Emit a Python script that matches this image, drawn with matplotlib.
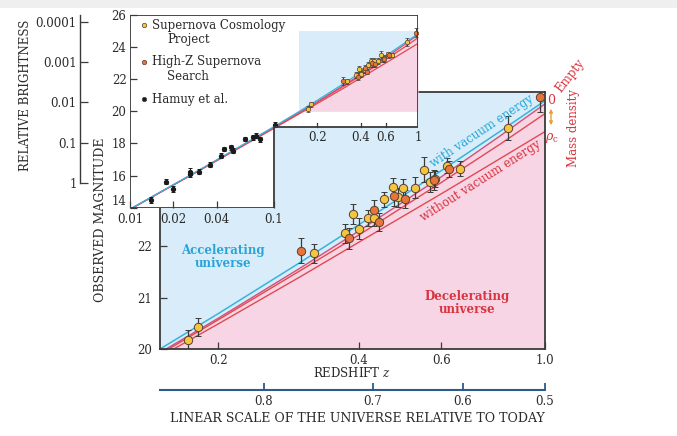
import numpy as np
import matplotlib
matplotlib.use('Agg')
import matplotlib.pyplot as plt
from matplotlib.patches import Polygon, Rectangle, FancyArrowPatch
from matplotlib.ticker import NullLocator

plt.rcParams['font.family'] = 'DejaVu Serif'
plt.rcParams['mathtext.fontset'] = 'dejavuserif'

# model curves: magnitude vs redshift
z_model = [0.01, 0.03, 0.1, 0.15, 0.2, 0.3, 0.4, 0.6, 0.8, 1.0]
m_vacuum = [13.91, 16.33, 19.05, 20.00, 20.69, 21.69, 22.42, 23.47, 24.23, 24.83]
m_empty = [13.90, 16.31, 19.00, 19.93, 20.60, 21.58, 22.30, 23.35, 24.14, 24.77]
m_open = [13.90, 16.30, 18.98, 19.90, 20.57, 21.53, 22.22, 23.24, 23.98, 24.58]
m_crit = [13.90, 16.29, 18.94, 19.85, 20.49, 21.41, 22.08, 23.02, 23.70, 24.23]

# Supernova Cosmology Project
scp_z = [0.1725, 0.1806, 0.321, 0.3735, 0.389, 0.4006, 0.419, 0.431, 0.452, 0.472,
         0.484, 0.4975, 0.5275, 0.551, 0.567, 0.582, 0.617, 0.658, 0.8325]
scp_m = [20.17, 20.43, 21.86, 22.25, 22.63, 22.34, 22.55, 22.55, 22.91, 23.15,
         22.95, 23.14, 23.14, 23.49, 23.25, 23.31, 23.57, 23.51, 24.30]
scp_err = [0.19, 0.17, 0.18, 0.19, 0.19, 0.20, 0.16, 0.16, 0.15, 0.18,
           0.19, 0.17, 0.20, 0.24, 0.20, 0.16, 0.15, 0.14, 0.24]

# High-Z Supernova Search
hz_z = [0.3005, 0.381, 0.431, 0.442, 0.476, 0.502, 0.579, 0.624, 0.974]
hz_m = [21.91, 22.15, 22.71, 22.47, 22.98, 22.92, 23.29, 23.50, 24.91]
hz_err = [0.24, 0.21, 0.18, 0.17, 0.19, 0.18, 0.19, 0.15, 0.30]

# Hamuy et al. nearby sample
ham_z = [0.0139, 0.0179, 0.020, 0.026, 0.026, 0.030, 0.0361, 0.043, 0.045, 0.050,
         0.0519, 0.0632, 0.0716, 0.0755, 0.0801, 0.1011]
ham_m = [14.48, 15.63, 15.17, 16.25, 16.10, 16.25, 16.67, 17.23, 17.65, 17.75,
         17.56, 18.27, 18.38, 18.48, 18.27, 19.17]
ham_err = [0.18, 0.18, 0.18, 0.2, 0.2, 0.15, 0.15, 0.15, 0.15, 0.15,
           0.15, 0.12, 0.15, 0.15, 0.15, 0.15]

z_ticks = [0.2, 0.4, 0.6, 1.0]
z_labels = ['0.2', '0.4', '0.6', '1.0']
inset_low_ticks = [0.01, 0.02, 0.04, 0.1]
inset_low_labels = ['0.01', '0.02', '0.04', '0.1']
inset_high_ticks = [0.2, 0.4, 0.6, 1.0]
inset_high_labels = ['0.2', '0.4', '0.6', '1']
scale_ticks = [0.8, 0.7, 0.6, 0.5]
brightness_ticks = [1, 0.1, 0.01, 0.001, 0.0001]
brightness_labels = ['1', '0.1', '0.01', '0.001', '0.0001']
m_unit_brightness = 15.56

BLUE = '#d8edf9'
PINK = '#f8d5e5'
CYAN = '#37b3dc'
RED = '#e04a52'
YELLOW = '#f4c63f'
ORANGE = '#e8743a'
EDGE = '#3a3a3a'
TXT = '#2a2a2a'

W, H = 677, 436


def fx(px):
    return px / W


def fy(py):
    return 1 - py / H


def box(x0, y0, x1, y1):
    return [x0 / W, 1 - y1 / H, (x1 - x0) / W, (y1 - y0) / H]


fig = plt.figure(figsize=(W / 100, H / 100), dpi=100, facecolor='white')
fig.patches.append(Rectangle((0, fy(8)), 1, 1 - fy(8), transform=fig.transFigure,
                             facecolor='#efefef', edgecolor='none', zorder=-10))

# ---- main panel ----
ax = fig.add_axes(box(160, 92, 545, 349))
ax.set_xscale('log')
ax.set_xlim(0.15, 1.0)
ax.set_ylim(20, 25)
ax.set_facecolor(BLUE)
ax.fill_between(z_model, 19, m_empty, color=PINK, lw=0, zorder=0)
ax.plot(z_model, m_vacuum, color=CYAN, lw=1.1, zorder=2)
ax.plot(z_model, m_empty, color='#d2507a', lw=1.0, zorder=2)
ax.plot(z_model, m_open, color=RED, lw=1.0, zorder=2)
ax.plot(z_model, m_crit, color=RED, lw=1.0, zorder=2)

eb = dict(fmt='o', ms=6, mec='#5a4030', mew=0.7, ecolor='#3a3a3a', elinewidth=0.9,
          capsize=2.5, capthick=0.9, zorder=4)
ax.errorbar(scp_z, scp_m, yerr=scp_err, mfc=YELLOW, **eb)
ax.errorbar(hz_z, hz_m, yerr=hz_err, mfc=ORANGE, **eb)

ax.set_xticks(z_ticks, labels=z_labels)
ax.xaxis.set_minor_locator(NullLocator())
ax.set_yticks([20, 21, 22])
ax.tick_params(direction='in', length=5, width=0.9, color=EDGE, labelsize=8.5,
               labelcolor=TXT)
ax.tick_params(axis='y', pad=6)
for s in ax.spines.values():
    s.set_color(EDGE)
    s.set_linewidth(1.3)

fig.text(fx(223), fy(257), 'Accelerating\nuniverse', ha='center', va='center',
         fontsize=8.5, fontweight='bold', color='#2aa4d8', linespacing=0.95)
fig.text(fx(467), fy(303), 'Decelerating\nuniverse', ha='center', va='center',
         fontsize=8.5, fontweight='bold', color='#d8343f', linespacing=0.95)
fig.text(fx(482), fy(131), 'with vacuum energy', ha='center', va='center',
         fontsize=8.5, color='#2aa8d8', rotation=33.5, rotation_mode='anchor')
fig.text(fx(481), fy(181), 'without vacuum energy', ha='center', va='center',
         fontsize=8.5, color='#d8343f', rotation=32.5, rotation_mode='anchor')

# mass density annotation
fig.text(fx(551), fy(100), '0', ha='center', va='center', fontsize=9, color='#d8343f')
fig.text(fx(570), fy(76), 'Empty', ha='center', va='center', fontsize=8.5,
         color='#d8343f', rotation=52, rotation_mode='anchor')
fig.text(fx(552), fy(138), r'$\rho_{\rm c}$', ha='center', va='center', fontsize=9,
         color='#d8343f')
fig.text(fx(573), fy(128), 'Mass density', ha='center', va='center', fontsize=8.5,
         color='#d8343f', rotation=90)
fig.patches.append(FancyArrowPatch((fx(551), fy(106)), (fx(551), fy(128)),
                                   transform=fig.transFigure, arrowstyle='<|-|>',
                                   mutation_scale=5, color='#e8a03a', lw=1.0))

fig.text(fx(352), fy(373), 'REDSHIFT $z$', ha='center', va='center', fontsize=8.5,
         color=TXT)
fig.text(fx(101), fy(220), 'OBSERVED MAGNITUDE', ha='center', va='center',
         fontsize=9, color=TXT, rotation=90)

# ---- scale factor axis ----
ax_a = fig.add_axes(box(160, 388, 545, 389.5))
ax_a.set_xscale('log')
ax_a.set_xlim(0.15, 1.0)
ax_a.patch.set_visible(False)
for side in ['top', 'left', 'right']:
    ax_a.spines[side].set_visible(False)
ax_a.spines['bottom'].set_color('#2d5a8a')
ax_a.spines['bottom'].set_linewidth(1.5)
ax_a.set_yticks([])
ax_a.set_xticks([1 / a - 1 for a in scale_ticks], labels=[str(a) for a in scale_ticks])
ax_a.xaxis.set_minor_locator(NullLocator())
ax_a.tick_params(axis='x', direction='in', length=5, width=1.3, color='#2d5a8a',
                 labelsize=8.5, labelcolor=TXT, pad=4)
fig.text(fx(357), fy(418), 'LINEAR SCALE OF THE UNIVERSE RELATIVE TO TODAY',
         ha='center', va='center', fontsize=9, color=TXT)

# ---- inset: full redshift range ----
ax_in = fig.add_axes(box(130, 15, 418, 207.7))
ax_in.set_xscale('log')
ax_in.set_xlim(0.01, 1.0)
ax_in.set_ylim(14, 26)
ax_in.patch.set_visible(False)
for s in ax_in.spines.values():
    s.set_visible(False)
outline = [(0.01, 14), (0.1, 14), (0.1, 19), (1.0, 19), (1.0, 26), (0.01, 26)]
back = Polygon(outline, closed=True, facecolor='white', edgecolor='none',
               transform=ax_in.transData, zorder=0)
ax_in.add_patch(back)
ax_in.add_patch(Polygon(outline, closed=True, fill=False, edgecolor=EDGE, lw=1.3,
                        transform=ax_in.transData, zorder=6))
ax_in.fill_between([0.15, 1.0], 20, 25, color=BLUE, lw=0, zorder=1)
ax_in.fill_between(z_model[3:], 20, np.maximum(m_empty[3:], 20), color=PINK, lw=0,
                   zorder=1)
for m, c in [(m_crit, RED), (m_open, RED), (m_empty, '#d2507a'), (m_vacuum, CYAN)]:
    ln, = ax_in.plot(z_model, m, color=c, lw=0.9, zorder=2)
    ln.set_clip_path(back)

small = dict(fmt='o', ms=3.2, mec='#5a4030', mew=0.5, ecolor='#3a3a3a',
             elinewidth=0.7, capsize=1.3, capthick=0.7, zorder=4)
ax_in.errorbar(scp_z, scp_m, yerr=scp_err, mfc=YELLOW, **small)
ax_in.errorbar(hz_z, hz_m, yerr=hz_err, mfc=ORANGE, **small)
ax_in.errorbar(ham_z, ham_m, yerr=ham_err, fmt='o', ms=2.8, color='#1a1a1a',
               ecolor='#1a1a1a', elinewidth=0.7, capsize=1.3, capthick=0.7, zorder=4)

ax_in.set_xticks(inset_low_ticks, labels=inset_low_labels)
ax_in.xaxis.set_minor_locator(NullLocator())
ax_in.set_yticks(range(14, 27, 2))
ax_in.tick_params(direction='in', length=5, width=0.9, color=EDGE, labelsize=8.5,
                  labelcolor=TXT)
ax_in.tick_params(axis='y', pad=2.5)
# lift the bottom label so it clears the 0.01 label below it
ax_in.yaxis.get_major_ticks()[0].label1.set_verticalalignment('bottom')
for zt, lab in zip(inset_high_ticks, inset_high_labels):
    ax_in.plot([zt, zt], [19, 19.3], color=EDGE, lw=0.9, zorder=6)
    ax_in.text(zt, 18.75, lab, ha='center', va='top', fontsize=8.5, color=TXT)

# legend
legend_rows = [(25, YELLOW, 'Supernova Cosmology', 'Project', 40),
               (62, ORANGE, 'High-Z Supernova', 'Search', 77),
               (99, '#1a1a1a', 'Hamuy et al.', None, None)]
for py, col, first, second, py2 in legend_rows:
    fig.lines.append(plt.Line2D([fx(144)], [fy(py)], marker='o', ms=3.2, mfc=col,
                                mec='#5a4030', mew=0.5, transform=fig.transFigure))
    fig.text(fx(152), fy(py), first, ha='left', va='center', fontsize=8.5, color=TXT)
    if second:
        fig.text(fx(167), fy(py2), second, ha='left', va='center', fontsize=8.5,
                 color=TXT)

# ---- relative brightness scale ----
ax_b = fig.add_axes(box(80, 15, 90, 207.7))
ax_b.set_ylim(14, 26)
ax_b.patch.set_visible(False)
for side in ['top', 'bottom', 'right']:
    ax_b.spines[side].set_visible(False)
ax_b.spines['left'].set_bounds(m_unit_brightness, 26)
ax_b.spines['left'].set_color(EDGE)
ax_b.spines['left'].set_linewidth(1.0)
ax_b.set_xticks([])
ax_b.set_yticks([m_unit_brightness - 2.5 * np.log10(b) for b in brightness_ticks],
                labels=brightness_labels)
ax_b.tick_params(axis='y', direction='in', length=6, width=0.9, color=EDGE,
                 labelsize=8.5, labelcolor=TXT, pad=2.5)
fig.text(fx(26), fy(95), 'RELATIVE BRIGHTNESS', ha='center', va='center',
         fontsize=8.5, color=TXT, rotation=90)

fig.savefig('out.png', dpi=100, facecolor=fig.get_facecolor())
